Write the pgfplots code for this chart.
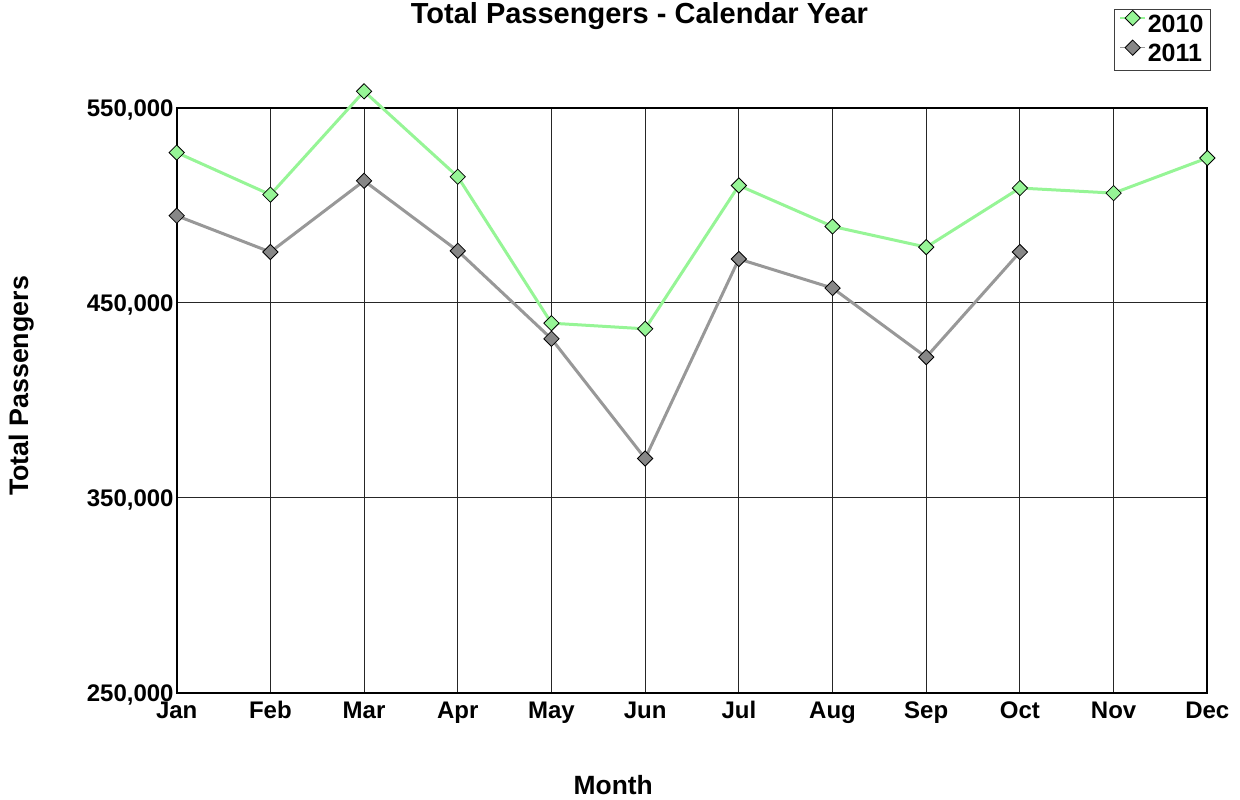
\documentclass[border=0pt]{standalone}
\usepackage{fontspec}
\setmainfont{Liberation Sans}
\usepackage{pgfplots}
\pgfplotsset{compat=1.18}
\definecolor{line10}{RGB}{150,245,150}
\definecolor{line11}{RGB}{152,152,152}
\definecolor{mark11}{RGB}{135,135,135}

\begin{document}
\begin{tikzpicture}
% page frame, 1240x799 px at 0.5pt per px
\path (0,0) rectangle (620pt,399.5pt);
\begin{axis}[
    at={(88.35pt,53.15pt)}, anchor=south west,
    scale only axis,
    width=515.3pt, height=292.5pt,
    xmin=0, xmax=11,
    ymin=250000, ymax=550000,
    xtick={0,...,11},
    xticklabels={Jan,Feb,Mar,Apr,May,Jun,Jul,Aug,Sep,Oct,Nov,Dec},
    ytick={250000,350000,450000,550000},
    yticklabels={{250,000},{350,000},{450,000},{550,000}},
    scaled y ticks=false,
    tick label style={font=\bfseries\fontsize{12}{14}\selectfont},
    yticklabel style={anchor=base east, inner sep=0pt, xshift=-1.35pt, yshift=-4.35pt},
    xticklabel style={anchor=base, inner sep=0pt, yshift=-12.65pt},
    major tick length=0pt,
    grid=major,
    grid style={black!85, line width=0.5pt},
    axis line style={line width=1pt},
    clip=false,
    every axis title shift=0pt,
    title={Total Passengers - Calendar Year},
    title style={at={(0.449,1.1441)}, anchor=base, inner sep=0pt,
        font=\bfseries\fontsize{14.5}{16}\selectfont},
    xlabel={Month},
    xlabel style={at={(0.4236,-0.1733)}, anchor=base, inner sep=0pt,
        font=\bfseries\fontsize{13.2}{15}\selectfont},
    ylabel={Total Passengers},
    ylabel style={at={(-0.1441,0.5243)}, anchor=base, inner sep=0pt,
        font=\bfseries\fontsize{13.4}{15}\selectfont},
    legend style={at={(1.0035,1.1689)}, anchor=north east, draw=black!75, line width=0.5pt,
        font=\bfseries\fontsize{12.5}{14}\selectfont,
        inner xsep=2.5pt, inner ysep=0.5pt, row sep=0pt,
        nodes={inner sep=1pt, text height=9pt, text depth=3pt},
        /tikz/every even column/.style={column sep=7pt}},
    legend cell align=left,
    legend image code/.code={%
        \draw[#1, line width=0.7pt, mark repeat=2, mark phase=2, yshift=4pt]
            plot coordinates {(0pt,0pt)(6.15pt,0pt)(12.35pt,0pt)};},
]
\addplot[line10, line width=1.5pt, mark=square*, mark size=2.7pt,
    mark options={rotate=45, fill=line10, draw=black, line width=0.4pt}]
coordinates {
    (0,527000) (1,505400) (2,558400) (3,514600) (4,439500) (5,436600)
    (6,510100) (7,489100) (8,478500) (9,508800) (10,506200) (11,524200)
};
\addlegendentry{2010}
\addplot[line11, line width=1.5pt, mark=square*, mark size=2.7pt,
    mark options={rotate=45, fill=mark11, draw=black, line width=0.4pt}]
coordinates {
    (0,494600) (1,476000) (2,512500) (3,476600) (4,431500) (5,370100)
    (6,472400) (7,457500) (8,422100) (9,476000)
};
\addlegendentry{2011}
\end{axis}
\end{tikzpicture}
\end{document}
